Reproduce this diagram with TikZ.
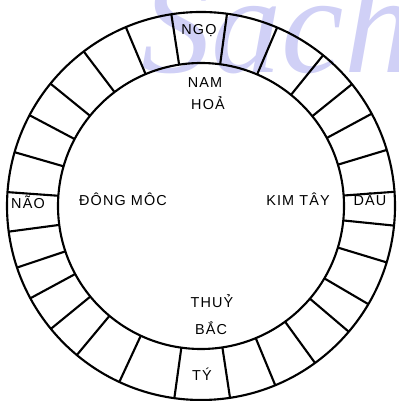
\documentclass[tikz,border=0pt]{standalone}
\usepackage{fontspec}
\setmainfont[LetterSpace=8]{Liberation Sans}
\newfontfamily\wmfont{Liberation Serif}
\usepackage{xcolor}
\definecolor{wmblue}{RGB}{208,208,246}

\begin{document}
\begin{tikzpicture}[x=0.2mm,y=0.2mm,line width=1.2pt,
  every node/.style={font=\fontsize{8.2}{9.8}\selectfont,inner sep=0pt},
  lbl/.style={anchor=base}]
\useasboundingbox (0,0) rectangle (398,401);
% watermark
\node[anchor=base west,text=wmblue,font=\wmfont\itshape\fontsize{80}{80}\selectfont] (wmark) at (140,328) {Sach};
% ring
\coordinate (c) at (201,195);
\draw (c) circle (194);
\draw (c) circle (143);
\foreach \a in {82.3,66.9,51.0,38.9,28.4,16.8,4.2,-5.8,-16.9,-30.4,-40.4,-54.0,-67.5,-81.4,
  -97.9,-114.9,-129.8,-140.7,-151.6,-161.5,-172.4,175.9,163.9,152.1,140.9,127.2,112.8,98.8}
  \draw[shift={(c)}] (\a:143) -- (\a:194);
% cells
\node[lbl] (ngo) at (199,366) {NGỌ};
\node[lbl] (mao) at (28,192) {NÃO};
\node[lbl] (dau) at (370,195) {DÂU};
\node[lbl] (ty) at (202,21) {TÝ};
% inside
\node[lbl] (nam) at (205,313) {NAM};
\node[lbl] (hoa) at (208,291) {HOẢ};
\node[lbl] (dong) at (123,195) {ĐÔNG MÔC};
\node[lbl] (tay) at (298,195) {KIM TÂY};
\node[lbl] (thuy) at (212,93) {THUỶ};
\node[lbl] (bac) at (211,66) {BẮC};
\end{tikzpicture}
\end{document}
